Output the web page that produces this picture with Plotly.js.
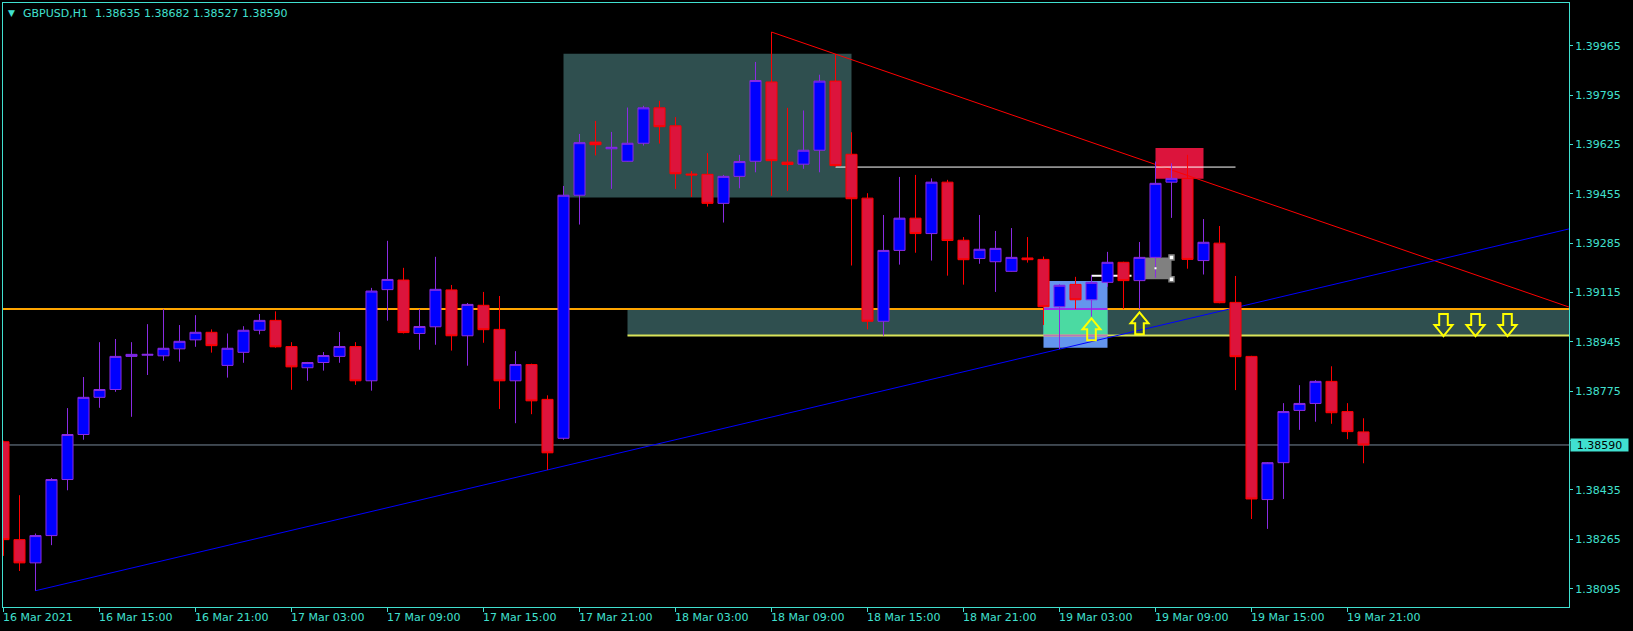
<!DOCTYPE html>
<html><head><meta charset="utf-8">
<script src="https://cdn.plot.ly/plotly-3.0.1.min.js"></script>
<style>html,body{margin:0;padding:0;background:#000;}#chart{width:1633px;height:631px;}</style>
</head><body><div id="chart"></div>
<script>
// ---- H1 bars, 16 Mar 2021 09:00 .. 19 Mar 2021 22:00 (bar index 0..85)
const barIndex = [0,1,2,3,4,5,6,7,8,9,10,11,12,13,14,15,16,17,18,19,20,21,22,23,24,25,26,27,28,29,30,31,32,33,34,35,36,37,38,39,40,41,42,43,44,45,46,47,48,49,50,51,52,53,54,55,56,57,58,59,60,61,62,63,64,65,66,67,68,69,70,71,72,73,74,75,76,77,78,79,80,81,82,83,84,85];
const opens  = [1.38601,1.38264,1.38184,1.38278,1.38471,1.38626,1.38754,1.38781,1.38895,1.38899,1.38897,1.38921,1.38952,1.38978,1.38864,1.38909,1.38985,1.39019,1.38929,1.38856,1.38874,1.38895,1.38929,1.38811,1.39125,1.39158,1.38974,1.38997,1.39124,1.38966,1.39071,1.38988,1.38811,1.38867,1.38747,1.38613,1.39450,1.39633,1.39610,1.39567,1.39629,1.39751,1.39689,1.39523,1.39522,1.39422,1.39515,1.39567,1.39840,1.39564,1.39557,1.39605,1.39843,1.39591,1.39440,1.39016,1.39260,1.39371,1.39318,1.39495,1.39295,1.39232,1.39221,1.39188,1.39234,1.39229,1.39066,1.39143,1.39090,1.39150,1.39219,1.39156,1.39236,1.39495,1.39508,1.39225,1.39285,1.39081,1.38895,1.38402,1.38529,1.38709,1.38733,1.38809,1.38705,1.38635];
const highs  = [1.38605,1.38417,1.38285,1.38476,1.38717,1.38824,1.38944,1.38955,1.38944,1.39006,1.39058,1.39003,1.39037,1.38988,1.38974,1.38999,1.39041,1.39050,1.38944,1.38876,1.38910,1.38979,1.38944,1.39131,1.39293,1.39200,1.39058,1.39238,1.39141,1.39079,1.39117,1.39103,1.38913,1.38870,1.38761,1.39482,1.39661,1.39706,1.39668,1.39752,1.39758,1.39775,1.39719,1.39533,1.39595,1.39520,1.39589,1.39909,1.40012,1.39751,1.39742,1.39865,1.39936,1.39667,1.39457,1.39382,1.39513,1.39520,1.39508,1.39503,1.39306,1.39382,1.39327,1.39337,1.39306,1.39239,1.39144,1.39169,1.39174,1.39255,1.39221,1.39289,1.39566,1.39560,1.39589,1.39368,1.39344,1.39172,1.38897,1.38531,1.38734,1.38796,1.38813,1.38861,1.38734,1.38682];
const lows   = [1.38208,1.38156,1.38088,1.38245,1.38434,1.38608,1.38718,1.38773,1.38687,1.38831,1.38880,1.38877,1.38928,1.38908,1.38822,1.38873,1.38971,1.38925,1.38780,1.38811,1.38846,1.38873,1.38797,1.38777,1.39018,1.38974,1.38918,1.38935,1.38915,1.38863,1.38942,1.38714,1.38665,1.38696,1.38504,1.38608,1.39349,1.39587,1.39472,1.39566,1.39621,1.39628,1.39472,1.39444,1.39411,1.39356,1.39474,1.39529,1.39448,1.39465,1.39541,1.39529,1.39548,1.39208,1.38988,1.38966,1.39211,1.39252,1.39225,1.39173,1.39142,1.39214,1.39117,1.39187,1.39218,1.39003,1.38920,1.39058,1.39032,1.39135,1.39058,1.39058,1.39166,1.39372,1.39197,1.39177,1.39078,1.38779,1.38335,1.38301,1.38404,1.38642,1.38670,1.38663,1.38610,1.38527];
const closes = [1.38264,1.38184,1.38278,1.38471,1.38626,1.38754,1.38781,1.38895,1.38902,1.38902,1.38923,1.38947,1.38978,1.38932,1.38923,1.38985,1.39019,1.38928,1.38859,1.38874,1.38898,1.38929,1.38811,1.39120,1.39160,1.38977,1.38998,1.39126,1.38966,1.39074,1.38987,1.38811,1.38867,1.38742,1.38563,1.39450,1.39631,1.39624,1.39615,1.39629,1.39751,1.39686,1.39524,1.39520,1.39422,1.39515,1.39566,1.39845,1.39569,1.39556,1.39605,1.39843,1.39552,1.39438,1.39016,1.39260,1.39371,1.39318,1.39495,1.39294,1.39228,1.39264,1.39267,1.39236,1.39228,1.39066,1.39140,1.39090,1.39150,1.39219,1.39156,1.39236,1.39491,1.39508,1.39229,1.39288,1.39080,1.38894,1.38404,1.38529,1.38705,1.38733,1.38809,1.38701,1.38636,1.38590];

// ---- axis ticks
const xTickBars   = [0,6,12,18,24,30,36,42,48,54,60,66,72,78,84];
const xTickLabels = ["16 Mar 2021","16 Mar 15:00","16 Mar 21:00","17 Mar 03:00","17 Mar 09:00","17 Mar 15:00","17 Mar 21:00","18 Mar 03:00","18 Mar 09:00","18 Mar 15:00","18 Mar 21:00","19 Mar 03:00","19 Mar 09:00","19 Mar 15:00","19 Mar 21:00"];
const yTickVals   = [1.39965,1.39795,1.39625,1.39455,1.39285,1.39115,1.38945,1.38775,1.38605,1.38435,1.38265,1.38095];

// ---- header
const symbolTitle = "GBPUSD,H1";
const headerOHLC  = ["1.38635","1.38682","1.38527","1.38590"];
const lastPrice   = 1.38590;

// ---- drawing objects (bar index / price)
const supplyBoxBars   = [35,53];  const supplyBoxPrices   = [1.39442,1.39937];
const zoneStartBar    = 39;       const zonePrices        = [1.38967,1.39058];
const blueBoxBars     = [65,69];  const blueBoxPrices     = [1.38925,1.39155];
const crimsonBoxBars  = [72,75];  const crimsonBoxPrices  = [1.39507,1.39613];
const grayBoxBars     = [71,73];  const grayBoxPrices     = [1.39161,1.39236];
const redTrendBars    = [48,52];  const redTrendPrices    = [1.40012,1.39936];
const blueTrendBars   = [2,34];   const blueTrendPrices   = [1.38088,1.38504];
const whiteLevelBars  = [52,77];  const whiteLevelPrice   = 1.39547;
const whiteShortBars  = [68,70.5];const whiteShortPrice   = 1.39173;
const upArrowBars     = [68,71];  const upArrowPrices     = [1.39026,1.39047];
const downArrowBars   = [90,92,94]; const downArrowPrices = [1.38965,1.38965,1.38965];

// ---- styling
const AXC = '#40E0D0';
const FONT = 'DejaVu Sans';
const X_RANGE = [-0.03125, 97.84375];
const Y_RANGE = [1.38032, 1.40112];

function rect(xs, ys, fill){
  return {type:'rect', xref:'x', yref:'y', x0:xs[0], x1:xs[1], y0:ys[0], y1:ys[1],
          fillcolor:fill, line:{width:0}, layer:'below'};
}
function seg(x0,y0,x1,y1,color,width){
  return {type:'line', xref:'x', yref:'y', x0:x0, y0:y0, x1:x1, y1:y1,
          line:{color:color, width:width}, layer:'below'};
}
function ray(bars, prices, color){
  const slope = (prices[1]-prices[0])/(bars[1]-bars[0]);
  const xe = X_RANGE[1];
  return seg(bars[0], prices[0], xe, prices[0] + slope*(xe-bars[0]), color, 1);
}
const UP_PATH   = 'M0,0 L9,-11 L4.3,-11 L4.3,-22 L-4.3,-22 L-4.3,-11 L-9,-11 Z';
const DOWN_PATH = 'M0,0 L9,11 L4.3,11 L4.3,22 L-4.3,22 L-4.3,11 L-9,11 Z';
function arrow(bar, price, path){
  return {type:'path', xref:'x', yref:'y', xsizemode:'pixel', ysizemode:'pixel',
          xanchor:bar, yanchor:price, path:path,
          line:{color:'#FFFF00', width:2}, fillcolor:'rgba(0,0,0,0)', layer:'above'};
}

const shapes = [];
shapes.push(rect(supplyBoxBars, supplyBoxPrices, '#2F4F4F'));
shapes.push(rect([zoneStartBar, X_RANGE[1]], zonePrices, '#2F4F4F'));
shapes.push(rect(blueBoxBars, blueBoxPrices, '#6495ED'));
// overlap of the two background rectangles (XOR-blended in the terminal)
shapes.push(rect([Math.max(blueBoxBars[0], zoneStartBar), blueBoxBars[1]],
                 [Math.max(blueBoxPrices[0], zonePrices[0]), Math.min(blueBoxPrices[1], zonePrices[1])], '#4BDAA2'));
shapes.push(rect(crimsonBoxBars, crimsonBoxPrices, '#DC143C'));
shapes.push(rect(grayBoxBars, grayBoxPrices, '#808080'));
shapes.push(seg(X_RANGE[0], lastPrice, X_RANGE[1], lastPrice, '#778899', 1));
shapes.push(seg(zoneStartBar, zonePrices[0], X_RANGE[1], zonePrices[0], '#D8E35A', 2));
shapes.push(seg(blueBoxBars[0], zonePrices[0], blueBoxBars[1], zonePrices[0], '#BC76B7', 2));
shapes.push(seg(X_RANGE[0], zonePrices[1], X_RANGE[1], zonePrices[1], '#FFA500', 2));
shapes.push(seg(blueBoxBars[0], zonePrices[1], blueBoxBars[1], zonePrices[1], '#9B30ED', 2));
shapes.push(ray(redTrendBars, redTrendPrices, '#FF0000'));
shapes.push(ray(blueTrendBars, blueTrendPrices, '#0000FF'));
shapes.push(seg(whiteLevelBars[0], whiteLevelPrice, whiteLevelBars[1], whiteLevelPrice, '#FFFFFF', 1));
shapes.push(seg(whiteShortBars[0], whiteShortPrice, whiteShortBars[1], whiteShortPrice, '#FFFFFF', 2));
upArrowBars.forEach((b,i)=>shapes.push(arrow(b, upArrowPrices[i], UP_PATH)));
downArrowBars.forEach((b,i)=>shapes.push(arrow(b, downArrowPrices[i], DOWN_PATH)));

const annotations = [];
xTickBars.forEach((b,i)=>annotations.push({
  xref:'x', yref:'paper', x:b, y:0, xanchor:'left', yanchor:'top', xshift:-1.5, yshift:-3,
  text:xTickLabels[i], showarrow:false, font:{family:FONT, size:11, color:AXC}, borderpad:0
}));
annotations.push({xref:'paper', yref:'paper', x:0, y:1, xanchor:'left', yanchor:'middle',
  xshift:3.5, yshift:-10, text:'\u25BC', showarrow:false, font:{family:FONT, size:9, color:AXC}, borderpad:0});
annotations.push({xref:'paper', yref:'paper', x:0, y:1, xanchor:'left', yanchor:'middle',
  xshift:18.5, yshift:-10, text:symbolTitle + '\u00a0\u00a0' + headerOHLC.join(' '), showarrow:false,
  font:{family:FONT, size:11, color:AXC}, borderpad:0});
annotations.push({xref:'paper', yref:'y', x:1, y:lastPrice, xanchor:'left', yanchor:'middle',
  xshift:1, text:lastPrice.toFixed(5), showarrow:false, bgcolor:AXC, width:57, height:12,
  borderpad:0, font:{family:FONT, size:11, color:'#000000'}});

// the tick label right under the current-price box is hidden by it in the terminal
const yTickText = yTickVals.map(v => Math.abs(v - lastPrice) < 0.0003 ? '' : v.toFixed(5));

const traces = [
  {type:'candlestick', x:barIndex, open:opens, high:highs, low:lows, close:closes,
   increasing:{line:{color:'#8A2BE2', width:1}, fillcolor:'#0000FF'},
   decreasing:{line:{color:'#FF0000', width:1}, fillcolor:'#DC143C'},
   whiskerwidth:0, hoverinfo:'skip', showlegend:false},
  {type:'scatter', mode:'markers', x:[grayBoxBars[1], grayBoxBars[1]], y:grayBoxPrices,
   marker:{symbol:'square', size:5, color:'#FFFFFF', line:{color:'#808080', width:1.5}},
   hoverinfo:'skip', showlegend:false},
  {type:'scatter', mode:'markers', x:[(grayBoxBars[0]+grayBoxBars[1])/2], y:[(grayBoxPrices[0]+grayBoxPrices[1])/2],
   marker:{symbol:'square', size:2, color:'#FFFFFF'}, hoverinfo:'skip', showlegend:false}
];

const layout = {
  width:1633, height:631,
  margin:{l:3, r:64, t:3, b:24, pad:0},
  paper_bgcolor:'#000000', plot_bgcolor:'#000000',
  showlegend:false, hovermode:false,
  boxmode:'overlay', boxgap:0.31, boxgroupgap:0,
  font:{family:FONT, size:11, color:AXC},
  xaxis:{range:X_RANGE, type:'linear', showgrid:false, zeroline:false,
         showline:true, linecolor:AXC, linewidth:1, mirror:true,
         tickmode:'array', tickvals:xTickBars, ticks:'outside', ticklen:4, tickcolor:AXC,
         showticklabels:false, rangeslider:{visible:false}, fixedrange:true},
  yaxis:{range:Y_RANGE, side:'right', showgrid:false, zeroline:false,
         showline:true, linecolor:AXC, linewidth:1, mirror:true,
         tickmode:'array', tickvals:yTickVals, ticktext:yTickText,
         ticks:'outside', ticklen:3, tickcolor:AXC,
         tickfont:{family:FONT, size:11, color:AXC}, fixedrange:true},
  shapes:shapes, annotations:annotations
};

Plotly.newPlot('chart', traces, layout, {staticPlot:true, displayModeBar:false});
</script>
</body></html>
